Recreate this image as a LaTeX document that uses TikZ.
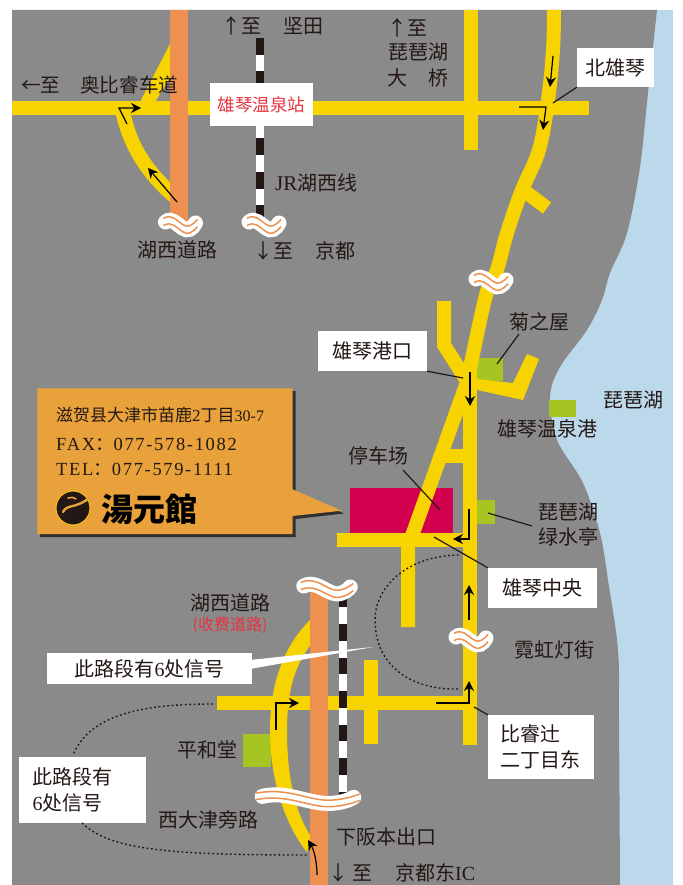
\documentclass[tikz,border=0pt]{standalone}
\usepackage{fontspec}
\setmainfont{Noto Sans CJK SC}
\newfontfamily\lat{Liberation Serif}
\newfontfamily\latsp{Liberation Serif}[LetterSpace=9]
\newfontfamily\jpb{Noto Sans CJK JP}
\usetikzlibrary{arrows.meta}
\definecolor{ground}{HTML}{8A8A8A}
\definecolor{lake}{HTML}{BCD9EC}
\definecolor{road}{HTML}{F7D300}
\definecolor{tollroad}{HTML}{EE9150}
\definecolor{ink}{HTML}{231815}
\definecolor{parking}{HTML}{D30050}
\definecolor{site}{HTML}{A7C522}
\definecolor{callout}{HTML}{E9A23B}
\definecolor{redtext}{HTML}{E6333F}
\tikzset{
  roadline/.style={draw=road,line width=14pt,line join=miter},
  tollline/.style={draw=tollroad,line width=18pt},
  railbase/.style={draw=white,line width=8pt},
  railbar/.style={draw=ink,line width=8pt,dash pattern=on 16.75pt off 16.75pt},
  place/.style={fill=site,draw=none},
  lbl/.style={text=ink,inner sep=0pt,font=\fontsize{20}{24}\selectfont},
  lblw/.style={lbl,anchor=west},
  whitebox/.style={fill=white,draw=none,inner sep=0pt,text=ink,font=\fontsize{20}{26}\selectfont},
  leader/.style={draw=ink,line width=1.2pt},
  dirarrow/.style={draw=black,line width=1.2pt,-{Stealth[length=10pt,width=10pt]}},
  dotline/.style={draw=ink,line width=1.4pt,dash pattern=on 1.8pt off 2.6pt},
}
\newcommand{\wavebr}[4]{%
  \begin{scope}[shift={(#1,#2)},xscale=#3,yscale=#4]
    \draw[white,line width=15pt,line cap=round] (-15,-4) .. controls (-9,-9) and (-4,-2) .. (2,2) .. controls (7,6) and (12,3) .. (15,-3);
    \draw[tollroad,line width=1.5pt,yshift=3.6pt] (-17,-4) .. controls (-9,-9) and (-4,-2) .. (2,2) .. controls (7,6) and (12,3) .. (17,-3);
    \draw[tollroad,line width=1.5pt,yshift=-3.6pt] (-17,-4) .. controls (-9,-9) and (-4,-2) .. (2,2) .. controls (7,6) and (12,3) .. (17,-3);
  \end{scope}}
\begin{document}
\begin{tikzpicture}[x=1pt,y=-1pt]
\useasboundingbox (0,0) rectangle (682,885);
% background
\fill[lake] (12,10) rectangle (673,885);
\fill[ground] (12,10) -- plot[smooth,tension=.55] coordinates {(657,10) (648,93) (640,167) (627,233) (610,273) (602,300) (587,330) (560,367) (550,397) (557,440) (583,483) (600,533) (608,580) (618,650) (619,720) (620,885)} -- (12,885) -- cycle;
% places under roads
\fill[parking] (350,488) rectangle (453,533);
\fill[place] (477,358) rectangle (503,381);
\fill[place] (549,400) rectangle (576,417);
\fill[place] (477,500) rectangle (495,524);
\fill[place] (243,734) rectangle (271,767);
% upper roads
\draw[roadline] (12,108.5) -- (589,108.5);
\draw[roadline] (471,10) -- (471,150);
\fill[road] (170,44) -- (140,102) -- (155,102) -- (170,78) -- cycle;
\fill[road] (116,115) .. controls (124,150) and (142,178) .. (170,202) -- (172,184) .. controls (152,165) and (138,145) .. (131,115) -- cycle;
\draw[roadline] plot[smooth,tension=.6] coordinates {(554,10) (553,50) (548,100) (539,150) (522,190) (507,233) (497,270) (486,295) (468,378)};
\draw[roadline] (523,190) -- (547,208);
% middle roads
\draw[roadline] (444,301) -- (444,345) -- (467,381);
\fill[road] (468,378) -- (513,383) -- (527,354) -- (539,359) -- (523,400) -- (468,388) -- cycle;
\draw[roadline] (469.5,370) -- (469.5,745);
\draw[roadline] (408,627) -- (408,545) -- (413,533) -- (466,385);
\draw[roadline] (443,456) -- (466,456);
\draw[roadline] (337,540) -- (470,540);
% lower roads
\draw[roadline] (217,703) -- (470,703);
\draw[roadline] (371,660) -- (371,744);
\fill[road] (310,620) .. controls (280,650) and (270,690) .. (270,730) .. controls (270,780) and (285,825) .. (307,852) -- (312,838) .. controls (296,815) and (287,780) .. (287,730) .. controls (287,690) and (295,665) .. (312,643) -- cycle;
% toll road
\draw[tollline] (179,10) -- (179,224);
\draw[tollline] (318.5,590) -- (318.5,885);
% railway
\draw[railbase] (260,38) -- (260,218);
\draw[railbar] (260,38) -- (260,218);
\draw[railbase] (343,590.5) -- (343,795);
\draw[railbar] (343,590.5) -- (343,795);
% wave breaks
\wavebr{180.5}{226}{1}{1}
\wavebr{264}{226}{1}{1}
\wavebr{491}{283}{1}{1}
\wavebr{471}{641}{1}{1}
\wavebr{327}{590}{1.55}{1}
\wavebr{308}{800}{3.05}{.9}
% callout
\fill[black,opacity=.65] (40,391) -- (295.5,391) -- (295.5,492) -- (344,513.5) -- (295.5,519) -- (295.5,537) -- (40,537) -- cycle;
\fill[callout] (37.3,388.3) -- (292.7,388.3) -- (292.7,489.3) -- (341.7,510.7) -- (292.7,516) -- (292.7,534) -- (37.3,534) -- cycle;
\node[lblw,font=\fontsize{17}{20}\selectfont] (addr) at (56,415) {滋贺县大津市苗鹿{\lat 2}丁目{\lat\fontsize{16}{18}\selectfont 30-7}};
\node[lblw,font=\fontsize{18.5}{20}\selectfont] (fax) at (56,444) {{\latsp FAX}：{\latsp 077-578-1082}};
\node[lblw,font=\fontsize{18.5}{20}\selectfont] (tel) at (56,469) {{\latsp TEL}：{\latsp 077-579-1111}};
\fill[ink,draw=road!70!callout,line width=1pt] (73,508) circle (17);
\draw[callout,line width=2.4pt,line cap=round] (63,512) .. controls (67,504) and (74,509) .. (88,499);
\draw[callout,line width=1.6pt,line cap=round] (68,498) .. controls (71,497) and (74,497) .. (76,499);
\node[lblw,font=\jpb\bfseries\fontsize{32}{34}\selectfont,text=black] (logo) at (101,509) {湯元館};
% white boxes
\node[whitebox,minimum width=103pt,minimum height=43pt,text=redtext,font=\fontsize{17.5}{20}\selectfont] (stn) at (261.5,104.5) {雄琴温泉站};
\node[whitebox,minimum width=77pt,minimum height=39pt] (bei) at (615.5,67.5) {北雄琴};
\node[whitebox,minimum width=109pt,minimum height=40pt] (kou) at (372.5,351) {雄琴港口};
\node[whitebox,minimum width=109pt,minimum height=40pt] (chu) at (542.5,588) {雄琴中央};
\node[whitebox,minimum width=106pt,minimum height=64pt,align=left,text width=82pt] (hie) at (541,747) {比睿辻\\二丁目东};
\fill[white] (250,660) -- (373,647) -- (250,669) -- cycle;
\node[whitebox,minimum width=205pt,minimum height=31pt] (sec1) at (149.5,668.5) {此路段有{\lat 6}处信号};
\node[whitebox,minimum width=127pt,minimum height=66pt,align=left,text width=100pt] (sec2) at (82.5,790) {此路段有\\{\lat 6}处信号};
% plain labels
\node[lblw] (t1) at (221,26) {↑至\hspace{22pt}坚田};
\node[lblw,font=\fontsize{19.6}{24}\selectfont] (t2) at (21,85) {←至\hspace{20pt}奥比睿车道};
\node[lblw] (t3) at (387,28) {↑至};
\node[lbl] (t4) at (418,52) {琵琶湖};
\node[lbl] (t5) at (418,78) {大\hspace{21pt}桥};
\node[lblw] (t6) at (275,183) {{\lat\fontsize{21}{24}\selectfont JR}湖西线};
\node[lbl] (t7) at (177,250) {湖西道路};
\node[lblw] (t8) at (253,251) {↓至\hspace{22pt}京都};
\node[lbl] (t9) at (539,322) {菊之屋};
\node[lbl] (t10) at (633.5,400) {琵琶湖};
\node[lbl] (t11) at (547,429) {雄琴温泉港};
\node[lbl] (t12) at (378.5,456) {停车场};
\node[lbl] (t13) at (568,512) {琵琶湖};
\node[lbl] (t14) at (568,537) {绿水亭};
\node[lbl] (t15) at (230.5,603) {湖西道路};
\node[lbl,text=redtext,font=\fontsize{16}{18}\selectfont] (t16) at (230,625) {(收费道路)};
\node[lbl] (t17) at (207,750) {平和堂};
\node[lbl] (t18) at (208,820) {西大津旁路};
\node[lbl] (t19) at (554,650) {霓虹灯街};
\node[lbl] (t20) at (386.5,837) {下阪本出口};
\node[lblw] (t21) at (328,873) {↓\hspace{4pt}至\hspace{23pt}京都东{\lat IC}};
% leader ends
\coordinate (eBei) at (553,103);
\coordinate (eKou) at (463,378);
\coordinate (sKiku) at (519,334);
\coordinate (eKiku) at (497,364);
\coordinate (sPark) at (403,470);
\coordinate (ePark) at (440,510);
\coordinate (sLake) at (532,526);
\coordinate (eLake) at (488,513);
\coordinate (eChu) at (434,537);
\coordinate (eHie) at (474,707);
\coordinate (dA) at (73,755);
\coordinate (dB) at (82,823);
\draw[leader] (bei.south west) -- (eBei);
\draw[leader] (kou.south east) -- (eKou);
\draw[leader] (sKiku) -- (eKiku);
\draw[leader] (sPark) -- (ePark);
\draw[leader] (sLake) -- (eLake);
\draw[leader] (chu.north west) -- (eChu);
\draw[leader] (hie.north west) -- (eHie);
% direction arrows
\draw[dirarrow] (177,202) -- (148,168);
\draw[dirarrow] (127,124) -- (119,108) -- (141,108);
\draw[dirarrow] (553,56) -- (550,87);
\draw[dirarrow] (519,107) -- (546,107) -- (543,130);
\draw[dirarrow] (470,372) -- (470,406);
\draw[dirarrow] (469,509) -- (469,539) -- (453,539);
\draw[dirarrow] (469,620) -- (469,585);
\draw[dirarrow] (436,703) -- (469,703) -- (469,681);
\draw[dirarrow] (276,730) -- (276,703) -- (299,703);
\draw[dirarrow] (317,875) .. controls (317,862) and (314,850) .. (308,840);
% dotted guides
\draw[dotline] (213,704) .. controls (140,704) and (90,715) .. (dA);
\draw[dotline] (dB) .. controls (110,850) and (170,855) .. (307,855);
\draw[dotline] (458,689) .. controls (410,690) and (375,665) .. (375,620) .. controls (375,585) and (410,555) .. (460,555);
\end{tikzpicture}
\end{document}
